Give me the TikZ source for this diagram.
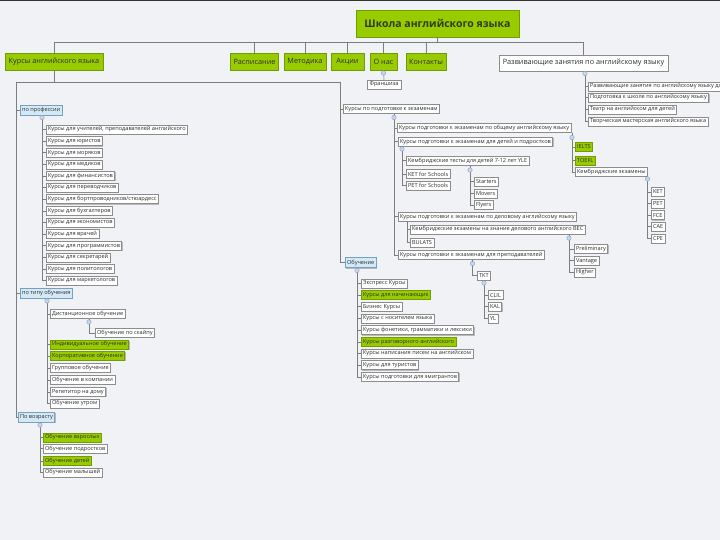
\documentclass[tikz,border=0pt]{standalone}
\usepackage{fontspec}
\setmainfont{Open Sans}
\usetikzlibrary{shadows}
\definecolor{bg}{RGB}{241,242,246}
\definecolor{lime}{RGB}{153,204,0}
\definecolor{limeb}{RGB}{112,158,0}
\definecolor{lblue}{RGB}{212,233,246}
\definecolor{lblueb}{RGB}{120,160,190}
\definecolor{boxb}{RGB}{140,140,140}
\definecolor{txt}{RGB}{45,45,45}
\definecolor{ttxt}{RGB}{45,60,20}
\definecolor{linec}{RGB}{125,125,125}
\definecolor{expf}{RGB}{200,214,236}
\definecolor{expb}{RGB}{140,160,200}
\tikzset{
  shad/.style={drop shadow={shadow xshift=0.9pt, shadow yshift=-0.9pt, fill=black!45, opacity=0.55}},
  base/.style={anchor=west, inner xsep=1.8pt, inner ysep=0pt, minimum height=9pt,
    font=\fontsize{5.6}{6.3}\selectfont, text=txt, line width=0.5pt, shad},
  wbox/.style={base, draw=boxb, fill=white},
  gbox/.style={base, draw=limeb, fill=lime},
  bbox/.style={base, draw=lblueb, fill=lblue, minimum height=10pt},
  topbase/.style={anchor=center, minimum height=17pt, inner xsep=3pt, inner ysep=0pt,
    font=\fontsize{7.3}{8}\selectfont, text=txt, line width=0.5pt, shad},
  topg/.style={topbase, draw=limeb, fill=lime},
  topw/.style={topbase, draw=boxb, fill=white, minimum height=16pt},
  titlebox/.style={anchor=center, draw=limeb, fill=lime, minimum width=163pt, minimum height=27pt,
    font=\fontsize{10.5}{12}\selectfont\bfseries, text=ttxt, line width=0.5pt, shad},
  conn/.style={draw=linec, line width=0.6pt},
  expd/.style={circle, draw=expb, fill=expf, minimum size=4.5pt, inner sep=0pt, line width=0.4pt},
}
\begin{document}
\begin{tikzpicture}[x=1pt,y=-1pt]
\useasboundingbox (0,0) rectangle (720,540);
\clip (0,0) rectangle (720,540);
\fill[bg] (0,0) rectangle (720,540);
\fill[black!80] (0,0) rectangle (720,1.5);

% ---------- top level ----------
\node[titlebox] (root) at (437.5,23.5) {Школа английского языка};
\node[topg, minimum width=98pt] (kurs) at (54,61.5) {Курсы английского языка};
\node[topg, minimum width=47pt] (rasp) at (254.5,61.5) {Расписание};
\node[topg, minimum width=42pt] (metod) at (305,61.5) {Методика};
\node[topg, minimum width=33pt] (akc) at (347.5,61.5) {Акции};
\node[topg, minimum width=27pt] (onas) at (383.5,61.5) {О нас};
\node[topg, minimum width=40pt] (kont) at (426,61.5) {Контакты};
\node[topw, minimum width=169pt] (razv) at (583.5,63) {Развивающие занятия по английскому языку};
\node[wbox, anchor=center, minimum width=34pt] (fran) at (384,84.5) {Франшиза};

\coordinate (hl) at (0,42);
\draw[conn] (root.south) -- (root.south |- hl);
\draw[conn] (kurs.north) -- (kurs.north |- hl) -- (razv.north |- hl) -- (razv.north);
\foreach \n in {rasp,metod,akc,onas,kont} \draw[conn] (\n.north) -- (\n.north |- hl);
\draw[conn] (onas.south) -- (fran.north);
\node[expd] at (383.5,73) {};

% ---------- right branch ----------
\coordinate (erz) at (585,73.5);
\draw[conn] (razv.south -| erz) -- (erz);
\foreach \lbl/\yy [count=\i] in {Развивающие занятия по английскому языку для детей/86.5,
  Подготовка к школе по английскому языку/97.5,
  Театр на английском для детей/109.5,
  Творческая мастерская английского языка/121.5}{
  \node[wbox] (rz\i) at (588,\yy) {\lbl};
  \draw[conn] (erz) |- (rz\i.west);
}
\node[expd] at (erz) {};

% ---------- Курсы английского языка ----------
\coordinate (jl) at (16,82);
\coordinate (jr) at (340,82);
\draw[conn] (kurs.south) -- (kurs.south |- jl);
\draw[conn] (jl) -- (jr);

\node[bbox] (prof) at (20,110) {по профессии};
\node[bbox] (tip) at (20,293.3) {по типу обучения};
\node[bbox] (vozr) at (18,417) {По возрасту};
\node[wbox] (ekz) at (343,109) {Курсы по подготовке к экзаменам};
\node[bbox] (obu) at (345,262.7) {Обучение};
\foreach \n in {prof,tip,vozr} \draw[conn] (jl) |- (\n.west);
\foreach \n in {ekz,obu} \draw[conn] (jr) |- (\n.west);

% по профессии
\coordinate (epr) at (42,117.5);
\draw[conn] (prof.south -| epr) -- (epr);
\foreach \lbl [count=\i from 0] in {{Курсы для учителей, преподавателей английского},
  Курсы для юристов, Курсы для моряков, Курсы для медиков, Курсы для финансистов,
  Курсы для переводчиков, Курсы для бортпроводников/стюардесс, Курсы для бухгалтеров,
  Курсы для экономистов, Курсы для врачей, Курсы для программистов, Курсы для секретарей,
  Курсы для политологов, Курсы для маркетологов}{
  \node[wbox] (pr\i) at (46,{129.5+11.62*\i}) {\lbl};
  \draw[conn] (epr) |- (pr\i.west);
}
\node[expd] at (epr) {};

% по типу обучения
\coordinate (eti) at (47,301);
\draw[conn] (tip.south -| eti) -- (eti);
\node[wbox] (ti1) at (50,314) {Дистанционное обучение};
\node[wbox] (ti1a) at (95,333) {Обучение по скайпу};
\node[gbox] (ti2) at (50,344.3) {Индивидуальное обучение};
\node[gbox] (ti3) at (50,356) {Корпоративное обучение};
\node[wbox] (ti4) at (50,368) {Групповое обучение};
\node[wbox] (ti5) at (50,380) {Обучение в компании};
\node[wbox] (ti6) at (50,392) {Репетитор на дому};
\node[wbox] (ti7) at (50,403.3) {Обучение утром};
\foreach \n in {ti1,ti2,ti3,ti4,ti5,ti6,ti7} \draw[conn] (eti) |- (\n.west);
\coordinate (eds) at (89,322);
\draw[conn] (ti1.south -| eds) -- (eds);
\draw[conn] (eds) |- (ti1a.west);
\node[expd] at (eti) {};
\node[expd] at (eds) {};

% По возрасту
\coordinate (evz) at (40,425);
\draw[conn] (vozr.south -| evz) -- (evz);
\node[gbox] (vz1) at (43,437.3) {Обучение взрослых};
\node[wbox] (vz2) at (43,448.7) {Обучение подростков};
\node[gbox] (vz3) at (43,461) {Обучение детей};
\node[wbox] (vz4) at (43,472.3) {Обучение малышей};
\foreach \n in {vz1,vz2,vz3,vz4} \draw[conn] (evz) |- (\n.west);
\node[expd] at (evz) {};

% ---------- экзамены ----------
\coordinate (eek) at (394,117.5);
\draw[conn] (ekz.south -| eek) -- (eek);
\node[wbox] (ob) at (397,128) {Курсы подготовки к экзаменам по общему английскому языку};
\node[wbox] (dt) at (398,141.7) {Курсы подготовки к экзаменам для детей и подростков};
\node[wbox] (dl) at (398,216.7) {Курсы подготовки к экзаменам по деловому английскому языку};
\node[wbox] (pp) at (398,255) {Курсы подготовки к экзаменам для преподавателей};
\foreach \n in {ob,dt,dl,pp} \draw[conn] (eek) |- (\n.west);
\node[expd] at (eek) {};

% по общему
\coordinate (eob) at (572,137.5);
\draw[conn] (ob.south -| eob) -- (eob);
\node[gbox] (ie) at (575,147) {IELTS};
\node[gbox] (tf) at (575,160.3) {TOEFL};
\node[wbox] (km) at (575,172) {Кембриджские экзамены};
\foreach \n in {ie,tf,km} \draw[conn] (eob) |- (\n.west);
\node[expd] at (eob) {};
\coordinate (ekm) at (647.5,179);
\draw[conn] (km.south -| ekm) -- (ekm);
\foreach \lbl [count=\i from 0] in {KET,PET,FCE,CAE,CPE}{
  \node[wbox] (km\i) at (651,{192+11.6*\i}) {\lbl};
  \draw[conn] (ekm) |- (km\i.west);
}
\node[expd] at (ekm) {};

% для детей
\coordinate (edt) at (402,149);
\draw[conn] (dt.south -| edt) -- (edt);
\node[wbox] (yle) at (406,160.7) {Кембриджские тесты для детей 7-12 лет YLE};
\node[wbox] (kets) at (406,174) {KET for Schools};
\node[wbox] (pets) at (406,185.5) {PET for Schools};
\foreach \n in {yle,kets,pets} \draw[conn] (edt) |- (\n.west);
\node[expd] at (edt) {};
\coordinate (eyl) at (470,170);
\draw[conn] (yle.south -| eyl) -- (eyl);
\node[wbox] (st) at (474,181.7) {Starters};
\node[wbox] (mv) at (474,193.5) {Movers};
\node[wbox] (fl) at (474,205) {Flyers};
\foreach \n in {st,mv,fl} \draw[conn] (eyl) |- (\n.west);
\node[expd] at (eyl) {};

% деловой
\coordinate (edl) at (407,221.5);
\node[wbox] (bec) at (410,229.3) {Кембриджские экзамены на знание делового английского BEC};
\node[wbox] (bul) at (410,242.7) {BULATS};
\foreach \n in {bec,bul} \draw[conn] (edl) |- (\n.west);
\coordinate (ebc) at (569,238);
\draw[conn] (bec.south -| ebc) -- (ebc);
\node[wbox] (pre) at (574,249) {Preliminary};
\node[wbox] (van) at (574,260.7) {Vantage};
\node[wbox] (hig) at (574,272.3) {Higher};
\foreach \n in {pre,van,hig} \draw[conn] (ebc) |- (\n.west);
\node[expd] at (ebc) {};

% преподаватели
\coordinate (epp) at (472.5,263.5);
\draw[conn] (pp.south -| epp) -- (epp);
\node[wbox] (tkt) at (477,275.7) {TKT};
\draw[conn] (epp) |- (tkt.west);
\node[expd] at (epp) {};
\coordinate (etk) at (484,283);
\draw[conn] (tkt.south -| etk) -- (etk);
\node[wbox] (cl) at (488,295) {CLIL};
\node[wbox] (ka) at (488,306.7) {KAL};
\node[wbox] (yl) at (488,318.3) {YL};
\foreach \n in {cl,ka,yl} \draw[conn] (etk) |- (\n.west);
\node[expd] at (etk) {};

% Обучение
\coordinate (eou) at (357,270.5);
\draw[conn] (obu.south -| eou) -- (eou);
\foreach \lbl/\st [count=\i from 0] in {Экспресс Курсы/wbox, Курсы для начинающих/gbox,
  Бизнес Курсы/wbox, Курсы с носителем языка/wbox,
  {Курсы фонетики, грамматики и лексики}/wbox, Курсы разговорного английского/gbox,
  Курсы написания писем на английском/wbox, Курсы для туристов/wbox,
  Курсы подготовки для эмигрантов/wbox}{
  \node[\st] (ou\i) at (361,{283.3+11.7*\i}) {\lbl};
  \draw[conn] (eou) |- (ou\i.west);
}
\node[expd] at (eou) {};
\end{tikzpicture}
\end{document}
